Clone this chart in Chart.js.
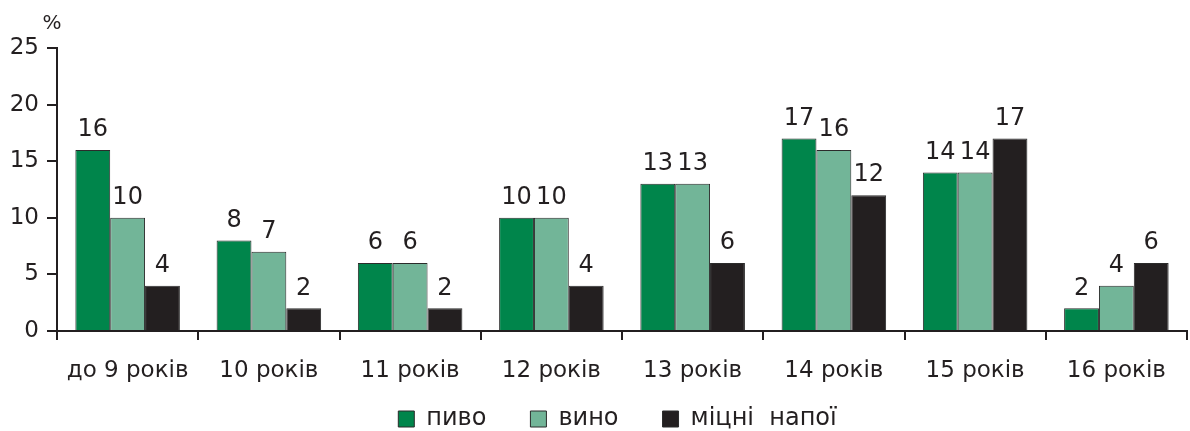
<!DOCTYPE html>
<html>
<head>
<meta charset="utf-8">
<script src="https://cdn.jsdelivr.net/npm/chart.js@4.4.1/dist/chart.umd.min.js"></script>
<style>
  html, body { margin: 0; padding: 0; background: #fff; }
  #wrap { width: 1190px; height: 431px; position: relative; }
</style>
</head>
<body>
<div id="wrap"><canvas id="chart"></canvas></div>
<script>
const categories = ["до 9 років", "10 років", "11 років", "12 років", "13 років", "14 років", "15 років", "16 років"];
const beer = [16, 8, 6, 10, 13, 17, 14, 2];
const wine = [10, 7, 6, 10, 13, 16, 14, 4];
const spirits = [4, 2, 2, 4, 6, 12, 17, 6];
const seriesNames = ["пиво", "вино", "міцні  напої"];
const yTicks = [0, 5, 10, 15, 20, 25];

const FONT = "'DejaVu Sans', sans-serif";

// values above bars, plus the "%" unit over the y axis
const valueLabels = {
  id: "valueLabels",
  afterDatasetsDraw(chart) {
    const ctx = chart.ctx;
    ctx.save();
    ctx.font = "24px " + FONT;
    ctx.fillStyle = "#231f20";
    ctx.textAlign = "center";
    ctx.textBaseline = "bottom";
    chart.data.datasets.forEach((ds, i) => {
      chart.getDatasetMeta(i).data.forEach((bar, j) => {
        ctx.fillText(ds.data[j], bar.x, bar.y - 8);
      });
    });
    const y = chart.scales.y;
    ctx.font = "20px " + FONT;
    ctx.textBaseline = "middle";
    ctx.fillText("%", y.right - 5, y.getPixelForValue(25) - 24);
    ctx.restore();
  }
};

// legend: keep its wide item spacing but take little room in the layout,
// then give it its real box a bit lower and to the right
const legendPlace = {
  id: "legendPlace",
  beforeLayout(chart) {
    const lg = chart.legend;
    if (lg && !lg._patched) {
      const fit = lg.fit;
      lg.fit = function() { fit.call(this); this.height = 40; };
      lg._patched = true;
    }
  },
  afterLayout(chart) {
    const lg = chart.legend;
    lg.top = chart.chartArea.bottom + 32;
    lg.bottom = chart.height;
    lg.height = lg.bottom - lg.top;
    lg.left += 24;
    lg.right += 24;
  }
};

new Chart(document.getElementById("chart"), {
  type: "bar",
  data: {
    labels: categories,
    datasets: [
      { label: seriesNames[0], data: beer, backgroundColor: "#00854b" },
      { label: seriesNames[1], data: wine, backgroundColor: "#72b598" },
      { label: seriesNames[2], data: spirits, backgroundColor: "#231f20" }
    ].map(d => Object.assign(d, { borderColor: "#2b2b2b", borderWidth: 1 }))
  },
  options: {
    responsive: true,
    maintainAspectRatio: false,
    animation: false,
    datasets: { bar: { categoryPercentage: 0.74, barPercentage: 1.0 } },
    layout: { padding: { top: 48, right: 3, left: 0, bottom: 0 } },
    plugins: {
      tooltip: { enabled: false },
      legend: {
        position: "bottom",
        labels: {
          font: { family: FONT, size: 24 },
          color: "#231f20",
          boxWidth: 16,
          boxHeight: 16,
          padding: 44
        }
      }
    },
    scales: {
      x: {
        offset: true,
        grid: { offset: true, drawOnChartArea: false, color: "#231f20", tickLength: 9, lineWidth: 2 },
        border: { color: "#231f20", width: 2 },
        ticks: { font: { family: FONT, size: 23 }, color: "#231f20", padding: 17, maxRotation: 0 },
        afterFit(scale) { scale.height = 60; }
      },
      y: {
        min: 0,
        max: 25,
        afterBuildTicks(scale) { scale.ticks = yTicks.map(v => ({ value: v })); },
        grid: { drawOnChartArea: false, color: "#231f20", tickLength: 10, lineWidth: 2 },
        border: { color: "#231f20", width: 2 },
        ticks: { font: { family: FONT, size: 23 }, color: "#231f20", padding: 8 },
        afterFit(scale) { scale.width = 57; }
      }
    }
  },
  plugins: [valueLabels, legendPlace]
});
</script>
</body>
</html>
